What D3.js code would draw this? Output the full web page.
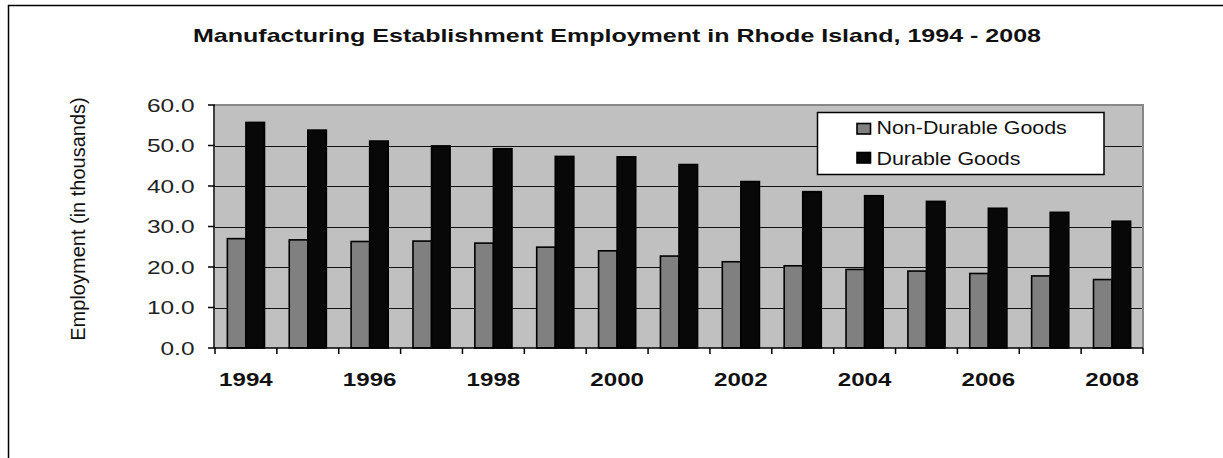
<!DOCTYPE html>
<html>
<head>
<meta charset="utf-8">
<script src="https://cdn.jsdelivr.net/npm/d3@7"></script>
<style>
  html, body { margin: 0; padding: 0; background: #fff; }
  svg { display: block; font-family: "Liberation Sans", Arial, sans-serif; }
</style>
</head>
<body>
<svg id="chart" width="1223" height="458"></svg>
<script>
const years = ["1994","1995","1996","1997","1998","1999","2000","2001","2002","2003","2004","2005","2006","2007","2008"];
const yearLabels = ["1994","1996","1998","2000","2002","2004","2006","2008"];
const seriesNames = ["Non-Durable Goods", "Durable Goods"];
const nonDurable = [27.0, 26.7, 26.3, 26.4, 25.9, 24.9, 24.0, 22.7, 21.3, 20.3, 19.4, 19.0, 18.4, 17.8, 16.9];
const durable    = [55.7, 53.8, 51.1, 49.9, 49.2, 47.3, 47.2, 45.3, 41.1, 38.6, 37.6, 36.2, 34.5, 33.5, 31.3];
const yTicks = [0, 10, 20, 30, 40, 50, 60];
const titleText = "Manufacturing Establishment Employment in Rhode Island, 1994 - 2008";
const yTitle = "Employment (in thousands)";

const seriesColors = ["#808080", "#080808"];
const seriesData = [nonDurable, durable];

const svg = d3.select("#chart");
const plot = { left: 215, right: 1143, top: 105, bottom: 348 };

// outer frame
svg.append("rect")
  .attr("x", 8.5).attr("y", 5.5)
  .attr("width", 1300).attr("height", 600)
  .attr("fill", "#fff").attr("stroke", "#000").attr("stroke-width", 1.5);

const x = d3.scaleBand().domain(years).range([plot.left, plot.right]).padding(0);
const bw = x.bandwidth();
const xs = d3.scaleBand().domain(seriesNames).range([bw * 0.2, bw * 0.8]).padding(0);
const y = d3.scaleLinear().domain([0, 60]).range([plot.bottom, plot.top]);

// plot background
svg.append("rect")
  .attr("x", plot.left).attr("y", plot.top)
  .attr("width", plot.right - plot.left).attr("height", plot.bottom - plot.top)
  .attr("fill", "#c0c0c0");

// gridlines
svg.append("g").selectAll("line")
  .data(yTicks.filter(d => d > 0))
  .join("line")
  .attr("x1", plot.left).attr("x2", plot.right)
  .attr("y1", d => Math.round(y(d)) + 0.5).attr("y2", d => Math.round(y(d)) + 0.5)
  .attr("stroke", "#111").attr("stroke-width", 1.2);

// plot border top/right
svg.append("path")
  .attr("d", `M${plot.left},${plot.top}H${plot.right}V${plot.bottom}`)
  .attr("fill", "none").attr("stroke", "#888").attr("stroke-width", 2);

// bars
const groups = svg.append("g").selectAll("g")
  .data(years)
  .join("g")
  .attr("transform", d => `translate(${x(d)},0)`);

groups.selectAll("rect")
  .data((d, i) => seriesNames.map((s, k) => ({ s, k, v: seriesData[k][i] })))
  .join("rect")
  .attr("x", d => xs(d.s))
  .attr("width", xs.bandwidth())
  .attr("y", d => y(d.v))
  .attr("height", d => y(0) - y(d.v))
  .attr("fill", d => seriesColors[d.k])
  .attr("stroke", "#000")
  .attr("stroke-width", 1.6);

// y axis line and ticks
svg.append("line")
  .attr("x1", plot.left - 1).attr("x2", plot.left - 1)
  .attr("y1", plot.top).attr("y2", plot.bottom)
  .attr("stroke", "#000").attr("stroke-width", 1.5);
svg.append("g").selectAll("line")
  .data(yTicks)
  .join("line")
  .attr("x1", plot.left - 7).attr("x2", plot.left)
  .attr("y1", d => y(d)).attr("y2", d => y(d))
  .attr("stroke", "#000").attr("stroke-width", 1.5);
svg.append("g").selectAll("text")
  .data(yTicks)
  .join("text")
  .attr("transform", d => `translate(194.5,${y(d) + 6.8}) scale(1.36,1)`)
  .attr("text-anchor", "end")
  .attr("font-size", 18)
  .attr("fill", "#222")
  .text(d => d.toFixed(1));

// x axis line and ticks
svg.append("line")
  .attr("x1", plot.left - 1).attr("x2", plot.right)
  .attr("y1", plot.bottom).attr("y2", plot.bottom)
  .attr("stroke", "#000").attr("stroke-width", 1.5);
const boundaries = years.map(d => x(d)).concat([plot.right]);
svg.append("g").selectAll("line")
  .data(boundaries)
  .join("line")
  .attr("x1", d => d).attr("x2", d => d)
  .attr("y1", plot.bottom).attr("y2", plot.bottom + 6)
  .attr("stroke", "#000").attr("stroke-width", 1.5);
svg.append("g").selectAll("text")
  .data(yearLabels)
  .join("text")
  .attr("transform", d => `translate(${x(d) + bw / 2},386) scale(1.34,1)`)
  .attr("text-anchor", "middle")
  .attr("font-size", 18)
  .attr("font-weight", "bold")
  .attr("fill", "#111")
  .text(d => d);

// title
svg.append("text")
  .attr("x", 617).attr("y", 42)
  .attr("text-anchor", "middle")
  .attr("font-size", 18.5)
  .attr("font-weight", "bold")
  .attr("fill", "#111")
  .attr("textLength", 848)
  .attr("lengthAdjust", "spacingAndGlyphs")
  .text(titleText);

// y title
svg.append("text")
  .attr("transform", "translate(85,219) rotate(-90)")
  .attr("text-anchor", "middle")
  .attr("font-size", 20)
  .attr("fill", "#111")
  .text(yTitle);

// legend
const lg = svg.append("g");
lg.append("rect")
  .attr("x", 817.5).attr("y", 112.5)
  .attr("width", 286.5).attr("height", 62)
  .attr("fill", "#fff").attr("stroke", "#000").attr("stroke-width", 1.5);
const legendRows = [{ top: 123.5, base: 134.3 }, { top: 152.5, base: 165 }];
seriesNames.forEach((s, k) => {
  lg.append("rect")
    .attr("x", 857).attr("y", legendRows[k].top)
    .attr("width", 13.5).attr("height", 10.5)
    .attr("fill", seriesColors[k]).attr("stroke", "#000").attr("stroke-width", 1.6);
  lg.append("text")
    .attr("transform", `translate(876.5,${legendRows[k].base}) scale(1.19,1)`)
    .attr("font-size", 18)
    .attr("fill", "#111")
    .text(s);
});
</script>
</body>
</html>
